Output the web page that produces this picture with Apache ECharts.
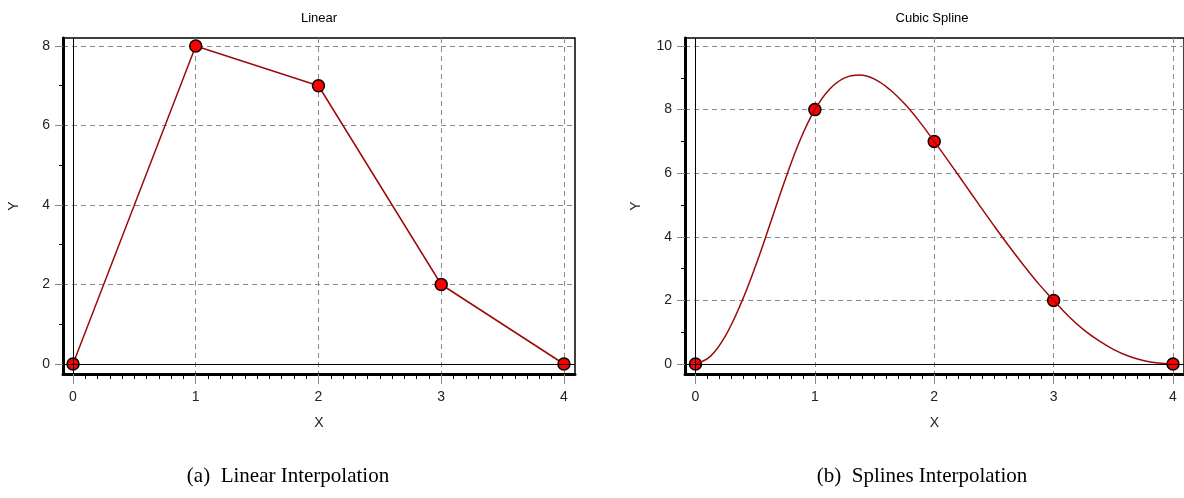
<!DOCTYPE html>
<html>
<head>
<meta charset="utf-8">
<title>Interpolation</title>
<script src="https://cdn.jsdelivr.net/npm/echarts@6/dist/echarts.min.js"></script>
</head>
<body style="margin:0;background:#fff;">
<div id="main" style="width:1184px;height:498px;"></div>
<script type="text/javascript">
// knots (same for both panels)
var xKnots = [0, 1, 2, 3, 4];
var yKnots = [0, 8, 7, 2, 0];

// cubic spline curve
var splineX = [0, 0.125, 0.25, 0.375, 0.5, 0.625, 0.75, 0.875, 1,
    1.125, 1.25, 1.375, 1.5, 1.625, 1.75, 1.875, 2,
    2.125, 2.25, 2.375, 2.5, 2.625, 2.75, 2.875, 3,
    3.125, 3.25, 3.375, 3.5, 3.625, 3.75, 3.875, 4];
var splineY = [0, 0.24, 0.88, 1.85, 3.05, 4.40, 5.78, 7.03, 8,
    8.65, 9.00, 9.09, 8.96, 8.64, 8.19, 7.63, 7,
    6.35, 5.68, 5.01, 4.35, 3.71, 3.10, 2.52, 2,
    1.50, 1.08, 0.74, 0.46, 0.25, 0.11, 0.03, 0];

// tick labels
var xTicks = [0, 1, 2, 3, 4];
var yTicksLinear = [0, 2, 4, 6, 8];
var yTicksSpline = [0, 2, 4, 6, 8, 10];
var yMinorLinear = [1, 3, 5, 7];
var yMinorSpline = [1, 3, 5, 7, 9];

var xMinor = [];
for (var i = 1; i < 40; i++) {
    if (i % 10 != 0) xMinor.push(i / 10);
}

var labelFont = { color: '#222', fontSize: 14, fontFamily: 'Liberation Sans' };
var gridLine = { show: true, lineStyle: { color: '#8a8a8a', type: [5, 4], width: 1 } };

function pairs(xs, ys) {
    var out = [];
    for (var i = 0; i < xs.length; i++) out.push([xs[i], ys[i]]);
    return out;
}

function mainX(g, min, max) {
    return {
        gridIndex: g, type: 'value', min: min, max: max, position: 'bottom',
        name: 'X', nameLocation: 'middle', nameGap: 42,
        nameTextStyle: labelFont,
        axisLine: { show: true, onZero: false, lineStyle: { color: '#000', width: 3 } },
        axisTick: { show: true, length: 10, customValues: xTicks, lineStyle: { color: '#8a8a8a', width: 1 } },
        axisLabel: Object.assign({ margin: 16, customValues: xTicks }, labelFont),
        splitLine: gridLine
    };
}
function minorX(g, min, max) {
    return {
        gridIndex: g, type: 'value', min: min, max: max, position: 'bottom',
        axisLine: { show: false, onZero: false },
        axisTick: { show: true, length: 5, customValues: xMinor, lineStyle: { color: '#000', width: 1 } },
        axisLabel: { show: false },
        splitLine: { show: false }
    };
}
function mainY(g, min, max, ticks) {
    return {
        gridIndex: g, type: 'value', min: min, max: max, position: 'left',
        name: 'Y', nameLocation: 'middle', nameGap: 42,
        nameTextStyle: labelFont,
        axisLine: { show: true, onZero: false, lineStyle: { color: '#000', width: 3 } },
        axisTick: { show: true, length: 8, customValues: ticks, lineStyle: { color: '#8a8a8a', width: 1 } },
        axisLabel: Object.assign({ margin: 13, customValues: ticks }, labelFont),
        splitLine: gridLine
    };
}
function minorY(g, min, max, ticks) {
    return {
        gridIndex: g, type: 'value', min: min, max: max, position: 'left',
        axisLine: { show: false, onZero: false },
        axisTick: { show: true, length: 4, customValues: ticks, lineStyle: { color: '#000', width: 1 } },
        axisLabel: { show: false },
        splitLine: { show: false }
    };
}

var zeroLines = {
    silent: true, symbol: 'none', animation: false,
    label: { show: false },
    lineStyle: { color: '#000', type: 'solid', width: 1 },
    data: [{ xAxis: 0 }, { yAxis: 0 }]
};
var knotStyle = { color: '#ff0000', borderColor: '#000', borderWidth: 1.5, opacity: 1 };
var curveStyle = { color: '#9b0a0a', width: 1.5 };

var chart = echarts.init(document.getElementById('main'));

var option = {
    animation: false,
    backgroundColor: '#fff',
    grid: [
        { left: 63, top: 38, width: 512, height: 336, show: true, borderColor: '#000', borderWidth: 1.5 },
        { left: 685, top: 38, width: 501, height: 336, show: true, borderColor: '#000', borderWidth: 1.5 }
    ],
    xAxis: [
        mainX(0, -0.0815, 4.090), minorX(0, -0.0815, 4.090),
        mainX(1, -0.0876, 4.092), minorX(1, -0.0876, 4.092)
    ],
    yAxis: [
        mainY(0, -0.2516, 8.201, yTicksLinear), minorY(0, -0.2516, 8.201, yMinorLinear),
        mainY(1, -0.3145, 10.252, yTicksSpline), minorY(1, -0.3145, 10.252, yMinorSpline)
    ],
    graphic: [
        { type: 'text', x: 319, y: 12, style: { text: 'Linear', textAlign: 'center', fill: '#000', font: '13px "Liberation Sans"' } },
        { type: 'text', x: 932, y: 12, style: { text: 'Cubic Spline', textAlign: 'center', fill: '#000', font: '13px "Liberation Sans"' } },
        { type: 'text', x: 288, y: 466, style: { text: '(a)  Linear Interpolation', textAlign: 'center', fill: '#000', font: '21px "Liberation Serif"' } },
        { type: 'text', x: 922, y: 466, style: { text: '(b)  Splines Interpolation', textAlign: 'center', fill: '#000', font: '21px "Liberation Serif"' } }
    ],
    series: [
        {
            type: 'line', xAxisIndex: 0, yAxisIndex: 0,
            data: pairs(xKnots, yKnots),
            symbol: 'circle', symbolSize: 12,
            itemStyle: knotStyle, lineStyle: curveStyle,
            markLine: zeroLines
        },
        {
            type: 'line', xAxisIndex: 2, yAxisIndex: 2,
            data: pairs(splineX, splineY),
            smooth: 0.4, showSymbol: false,
            lineStyle: curveStyle,
            markLine: zeroLines
        },
        {
            type: 'scatter', xAxisIndex: 2, yAxisIndex: 2,
            data: pairs(xKnots, yKnots),
            symbol: 'circle', symbolSize: 12,
            itemStyle: knotStyle
        }
    ]
};

chart.setOption(option);
</script>
</body>
</html>
